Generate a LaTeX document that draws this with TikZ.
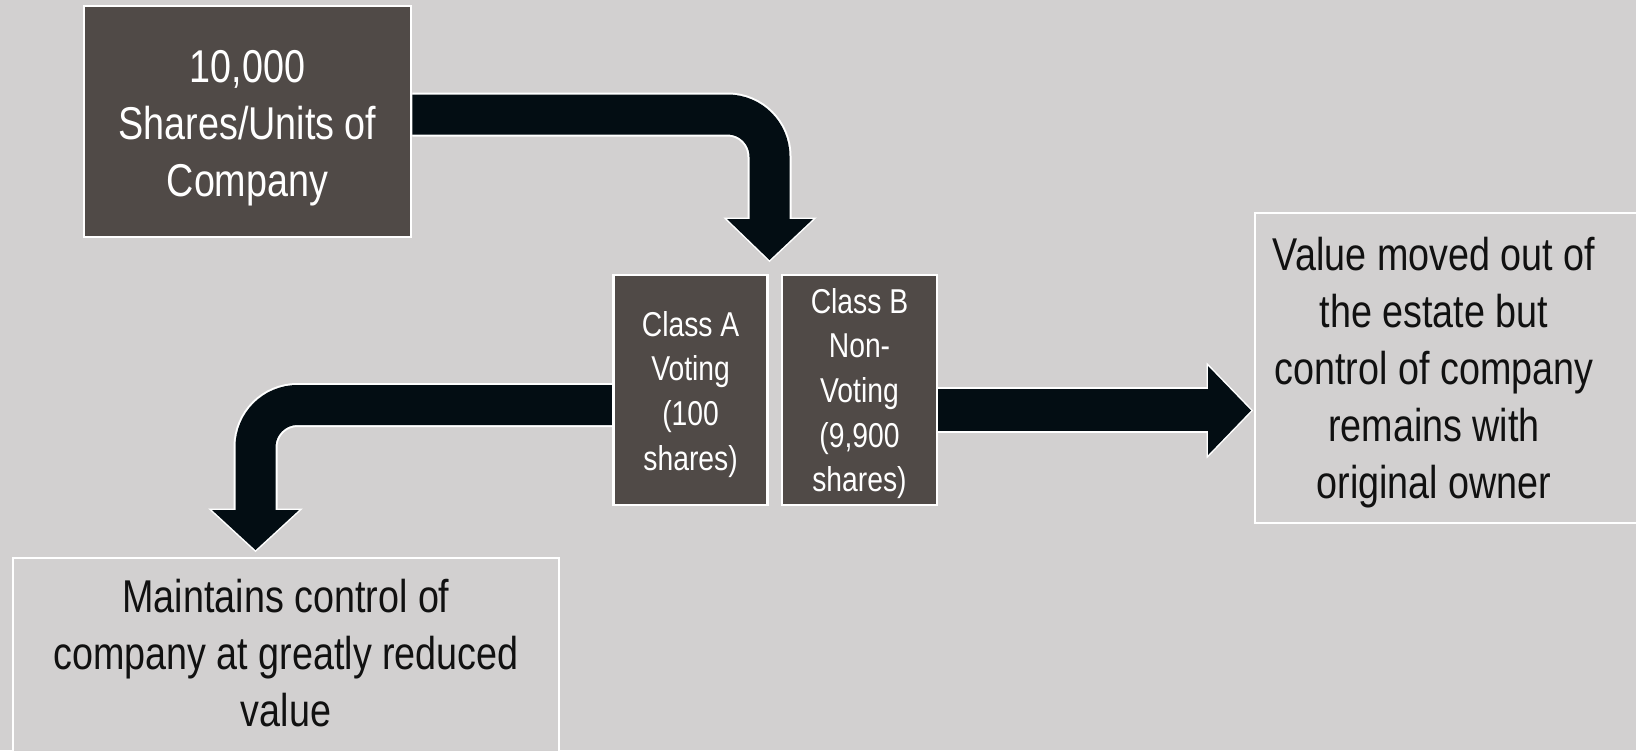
\documentclass[tikz,border=0pt]{standalone}
\usepackage{fontspec}
\setmainfont{Liberation Sans}[FakeStretch=0.82]
\usetikzlibrary{calc}
\definecolor{bgcol}{HTML}{D2D0D0}
\definecolor{boxfill}{HTML}{504A47}
\definecolor{arrowcol}{HTML}{030D13}
\definecolor{txtdark}{HTML}{111111}
\pgfdeclarelayer{bglayer}
\pgfdeclarelayer{arrowlayer}
\pgfsetlayers{bglayer,arrowlayer,main}
\newcommand{\ctext}[2]{\parbox[t]{#1}{\centering #2}}
\begin{document}
\begin{tikzpicture}[x=1pt,y=-1pt,
  bigfont/.style={font=\fontsize{46}{57}\selectfont},
  smallfont/.style={font=\fontsize{34.5}{44.7}\selectfont},
  darkbox/.style={draw=white, line width=2.5pt, fill=boxfill, text=white, inner sep=0pt, anchor=base},
  lightbox/.style={draw=white, line width=2pt, fill=bgcol, text=txtdark, inner sep=0pt},
  shaftout/.style={draw=white, line width=44pt, rounded corners=42pt},
  shaft/.style={draw=arrowcol, line width=40pt, rounded corners=42pt},
  headout/.style={draw=white, line width=3pt, line join=miter},
  head/.style={fill=arrowcol}]
\begin{pgfonlayer}{bglayer}
\fill[bgcol] (0,0) rectangle (1636,750);
\end{pgfonlayer}
\useasboundingbox (0,0) rectangle (1636,750);

\node[darkbox, bigfont, text height=76pt, text depth=155pt] (top) at (247.5,82)
  {\ctext{327pt}{10,000\\Shares/Units of\\Company}};
\node[darkbox, smallfont, text height=61pt, text depth=169pt] (clA) at (690.6,336)
  {\ctext{154pt}{Class A\\Voting\\(100\\shares)}};
\node[darkbox, smallfont, text height=38pt, text depth=192pt] (clB) at (859.5,313)
  {\ctext{155pt}{Class B\\Non-\\Voting\\(9,900\\shares)}};
\node[lightbox, bigfont, anchor=base west, text height=57pt, text depth=253pt] (right) at (1254,270)
  {\ctext{358pt}{Value moved out of\\the estate but\\control of company\\remains with\\original owner}\hspace*{30pt}};
\node[lightbox, bigfont, anchor=base, text height=54pt, text depth=200pt] (bot) at (286,612)
  {\ctext{546pt}{Maintains control of\\company at greatly reduced\\value}};

\begin{pgfonlayer}{arrowlayer}
\coordinate (t0) at ($(top.east)+(0,-7)$);
\coordinate (tb) at (769.5,219);
\coordinate (l0) at ($(clA.west)+(0,15)$);
\coordinate (lb) at (255.5,510);
\coordinate (r0) at ($(clB.east)+(0,20)$);
\coordinate (rb) at (1208,410);
% white outlines
\draw[shaftout] (t0) -| (tb);
\draw[headout] (727,219) -- (813,219) -- (769.5,260) -- cycle;
\draw[shaftout] (l0) -| (lb);
\draw[headout] (212,510) -- (299,510) -- (255.5,550) -- cycle;
\draw[shaftout, line width=46pt] (r0) -- (rb);
\draw[headout] (1208,366) -- (1208,455) -- (1251,410.5) -- cycle;
% black fills
\draw[shaft] (t0) -| (tb);
\fill[head] (727,219) -- (813,219) -- (769.5,260) -- cycle;
\draw[shaft] (l0) -| (lb);
\fill[head] (212,510) -- (299,510) -- (255.5,550) -- cycle;
\draw[shaft, line width=42pt] (r0) -- (rb);
\fill[head] (1208,366) -- (1208,455) -- (1251,410.5) -- cycle;
\end{pgfonlayer}
\end{tikzpicture}
\end{document}
